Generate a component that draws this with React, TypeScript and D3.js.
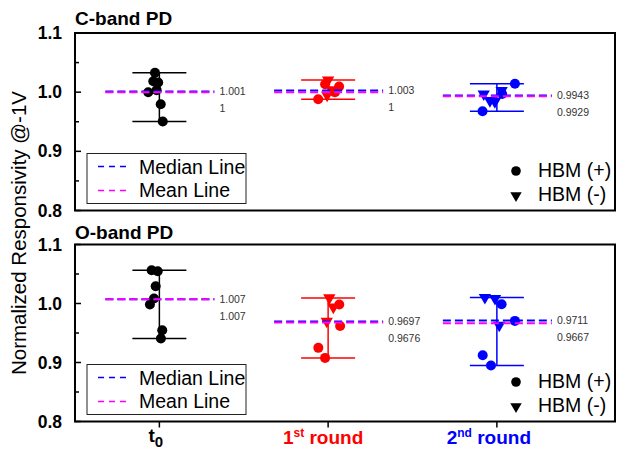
import React from "react";
import * as d3 from "d3";

const categories = ["t0", "1st round", "2nd round"];
const categoryColors = ["#000000", "#ff0000", "#0000ff"];
const panelTitles = ["C-band PD", "O-band PD"];
const yMajorTicks = [0.8, 0.9, 1.0, 1.1];
const yMinorTicks = [0.85, 0.95, 1.05];

// C-band PD
const cT0Values = [1.0327, 1.0186, 1.0164, 1.0034, 1.0, 0.9797, 0.9503];
const cT0Shapes = ["o", "o", "o", "o", "o", "o", "o"];
const cT0Jitter = [-0.026, -0.036, -0.007, -0.016, -0.066, 0.008, 0.02];
const cR1Values = [1.0205, 1.0135, 1.0095, 1.004, 1.0, 0.995, 0.988];
const cR1Shapes = ["v", "o", "o", "v", "o", "v", "o"];
const cR1Jitter = [0.0, -0.018, 0.065, 0.024, 0.041, -0.006, -0.059];
const cR2Values = [1.0141, 1.0027, 0.997, 0.997, 0.9858, 0.984, 0.9678];
const cR2Shapes = ["o", "v", "v", "o", "v", "v", "o"];
const cR2Jitter = [0.107, 0.028, -0.078, 0.031, -0.041, -0.012, -0.085];
const cMedians = [1.001, 1.003, 0.9943];
const cMeans = [1.0, 1.0, 0.9929];
const cMedianLabels = ["1.001", "1.003", "0.9943"];
const cMeanLabels = ["1", "1", "0.9929"];

// O-band PD
const oT0Values = [1.0564, 1.0547, 1.0293, 1.0085, 0.9983, 0.9547, 0.9407];
const oT0Shapes = ["o", "o", "o", "o", "o", "o", "o"];
const oT0Jitter = [-0.046, -0.01, -0.022, -0.032, -0.056, 0.017, 0.009];
const oR1Values = [1.0095, 0.9983, 0.994, 0.97, 0.962, 0.9248, 0.9078];
const oR1Shapes = ["v", "o", "v", "v", "o", "o", "o"];
const oR1Jitter = [0.007, 0.066, 0.031, -0.008, 0.071, -0.058, -0.018];
const oR2Values = [1.0102, 1.0085, 0.9988, 0.9705, 0.9632, 0.9124, 0.895];
const oR2Shapes = ["v", "v", "o", "o", "v", "o", "o"];
const oR2Jitter = [-0.071, -0.011, 0.028, 0.107, 0.014, -0.084, -0.035];
const oMedians = [1.007, 0.9697, 0.9711];
const oMeans = [1.007, 0.9676, 0.9667];
const oMedianLabels = ["1.007", "0.9697", "0.9711"];
const oMeanLabels = ["1.007", "0.9676", "0.9667"];

const panels = [
  {
    title: panelTitles[0],
    values: [cT0Values, cR1Values, cR2Values],
    shapes: [cT0Shapes, cR1Shapes, cR2Shapes],
    jitter: [cT0Jitter, cR1Jitter, cR2Jitter],
    medians: cMedians,
    means: cMeans,
    medianLabels: cMedianLabels,
    meanLabels: cMeanLabels,
    top: 33,
    bottom: 210.5,
    titleY: 25,
    showXTicks: false,
  },
  {
    title: panelTitles[1],
    values: [oT0Values, oR1Values, oR2Values],
    shapes: [oT0Shapes, oR1Shapes, oR2Shapes],
    jitter: [oT0Jitter, oR1Jitter, oR2Jitter],
    medians: oMedians,
    means: oMeans,
    medianLabels: oMedianLabels,
    meanLabels: oMeanLabels,
    top: 244.5,
    bottom: 421.5,
    titleY: 238.5,
    showXTicks: true,
  },
];

const W = 620;
const H = 449;
const LEFT = 75;
const RIGHT = 615;
const FONT = "Arial, 'Liberation Sans', Helvetica, sans-serif";

const x = d3.scaleLinear().domain([-0.5, 2.7]).range([LEFT, RIGHT]);
const triPath = d3.symbol(d3.symbolTriangle, 66)() as string;
const legendTriPath = d3.symbol(d3.symbolTriangle, 56)() as string;

function Marker({ shape, cx, cy, color }: { shape: string; cx: number; cy: number; color: string }) {
  if (shape === "v") {
    return <path d={triPath} transform={`translate(${cx},${cy}) rotate(180)`} fill={color} />;
  }
  return <circle cx={cx} cy={cy} r={5} fill={color} />;
}

function Panel({ p }: { p: (typeof panels)[number] }) {
  const y = d3.scaleLinear().domain([0.8, 1.1]).range([p.bottom, p.top]);
  const legendTop = p.bottom - 57;
  return (
    <g>
      <text x={LEFT} y={p.titleY} fontFamily={FONT} fontWeight="bold" fontSize={19} fill="#000">
        {p.title}
      </text>
      {yMajorTicks.map((t) => (
        <g key={"M" + t}>
          <line x1={LEFT} x2={LEFT + 6} y1={y(t)} y2={y(t)} stroke="#000" strokeWidth={1.5} />
          <text
            x={62}
            y={y(t)}
            dy="0.35em"
            textAnchor="end"
            fontFamily={FONT}
            fontWeight="bold"
            fontSize={17.5}
            fill="#000"
          >
            {d3.format(".1f")(t)}
          </text>
        </g>
      ))}
      {yMinorTicks.map((t) => (
        <line key={"m" + t} x1={LEFT} x2={LEFT + 4} y1={y(t)} y2={y(t)} stroke="#000" strokeWidth={1.5} />
      ))}
      {p.showXTicks &&
        categories.map((c, i) => (
          <line key={c} x1={x(i)} x2={x(i)} y1={p.bottom} y2={p.bottom + 6} stroke="#000" strokeWidth={1.5} />
        ))}
      {categories.map((c, i) => {
        const vals = p.values[i];
        const [mn, mx] = d3.extent(vals) as [number, number];
        const cx = x(i);
        const color = categoryColors[i];
        return (
          <g key={c}>
            <line x1={cx} x2={cx} y1={y(mn)} y2={y(mx)} stroke={color} strokeWidth={1.5} />
            <line x1={cx - 27} x2={cx + 27} y1={y(mn)} y2={y(mn)} stroke={color} strokeWidth={1.5} />
            <line x1={cx - 27} x2={cx + 27} y1={y(mx)} y2={y(mx)} stroke={color} strokeWidth={1.5} />
            {vals.map((v, j) => (
              <Marker key={j} shape={p.shapes[i][j]} cx={x(i + p.jitter[i][j])} cy={y(v)} color={color} />
            ))}
            <line
              x1={cx - 54}
              x2={cx + 55}
              y1={y(p.medians[i])}
              y2={y(p.medians[i])}
              stroke="#0000ff"
              strokeWidth={2}
              strokeDasharray="8,4"
            />
            <line
              x1={cx - 54}
              x2={cx + 55}
              y1={y(p.means[i])}
              y2={y(p.means[i])}
              stroke="#ff00ff"
              strokeWidth={2}
              strokeDasharray="8,4"
            />
            <text x={cx + 60} y={y(p.medians[i])} dy="0.35em" fontFamily={FONT} fontSize={10.5} fill="#333">
              {p.medianLabels[i]}
            </text>
            <text x={cx + 60} y={y(p.medians[i]) + 17} dy="0.35em" fontFamily={FONT} fontSize={10.5} fill="#333">
              {p.meanLabels[i]}
            </text>
          </g>
        );
      })}
      <rect x={LEFT} y={p.top} width={RIGHT - LEFT} height={p.bottom - p.top} fill="none" stroke="#000" strokeWidth={2} />
      <rect x={87} y={legendTop} width={159} height={50} fill="#fff" stroke="#222" strokeWidth={1} />
      <line x1={98} x2={127} y1={legendTop + 13} y2={legendTop + 13} stroke="#0000ff" strokeWidth={1.5} strokeDasharray="6,5" />
      <line x1={98} x2={127} y1={legendTop + 37} y2={legendTop + 37} stroke="#ff00ff" strokeWidth={1.5} strokeDasharray="6,5" />
      <text x={139} y={legendTop + 20} fontFamily={FONT} fontSize={19.5} fill="#000">
        Median Line
      </text>
      <text x={139} y={legendTop + 43.5} fontFamily={FONT} fontSize={19.5} fill="#000">
        Mean Line
      </text>
      <circle cx={516} cy={legendTop + 17.5} r={4.8} fill="#000" />
      <path d={legendTriPath} transform={`translate(516,${legendTop + 42}) rotate(180)`} fill="#000" />
      <text x={538} y={legendTop + 23} fontFamily={FONT} fontSize={19.5} fill="#000">
        HBM (+)
      </text>
      <text x={538} y={legendTop + 47} fontFamily={FONT} fontSize={19.5} fill="#000">
        HBM (-)
      </text>
    </g>
  );
}

export default function App() {
  return (
    <svg width={W} height={H} style={{ position: "absolute", left: 0, top: 0, background: "#fff" }}>
      <rect width={W} height={H} fill="#fff" />
      {panels.map((p) => (
        <Panel key={p.title} p={p} />
      ))}
      <text
        transform="translate(26,233) rotate(-90)"
        textAnchor="middle"
        fontFamily={FONT}
        fontSize={20.5}
        fill="#000"
      >
        Normalized Responsivity @-1V
      </text>
      <text x={x(0) - 11} y={442} fontFamily={FONT} fontWeight="bold" fontSize={19} fill={categoryColors[0]}>
        t<tspan dy={5} fontSize={15}>0</tspan>
      </text>
      <text x={x(1) - 5} y={444} textAnchor="middle" fontFamily={FONT} fontWeight="bold" fontSize={19} fill={categoryColors[1]}>
        1<tspan dy={-7} fontSize={12}>st</tspan>
        <tspan dy={7}> round</tspan>
      </text>
      <text x={x(2) - 8} y={444} textAnchor="middle" fontFamily={FONT} fontWeight="bold" fontSize={19} fill={categoryColors[2]}>
        2<tspan dy={-7} fontSize={12}>nd</tspan>
        <tspan dy={7}> round</tspan>
      </text>
    </svg>
  );
}
